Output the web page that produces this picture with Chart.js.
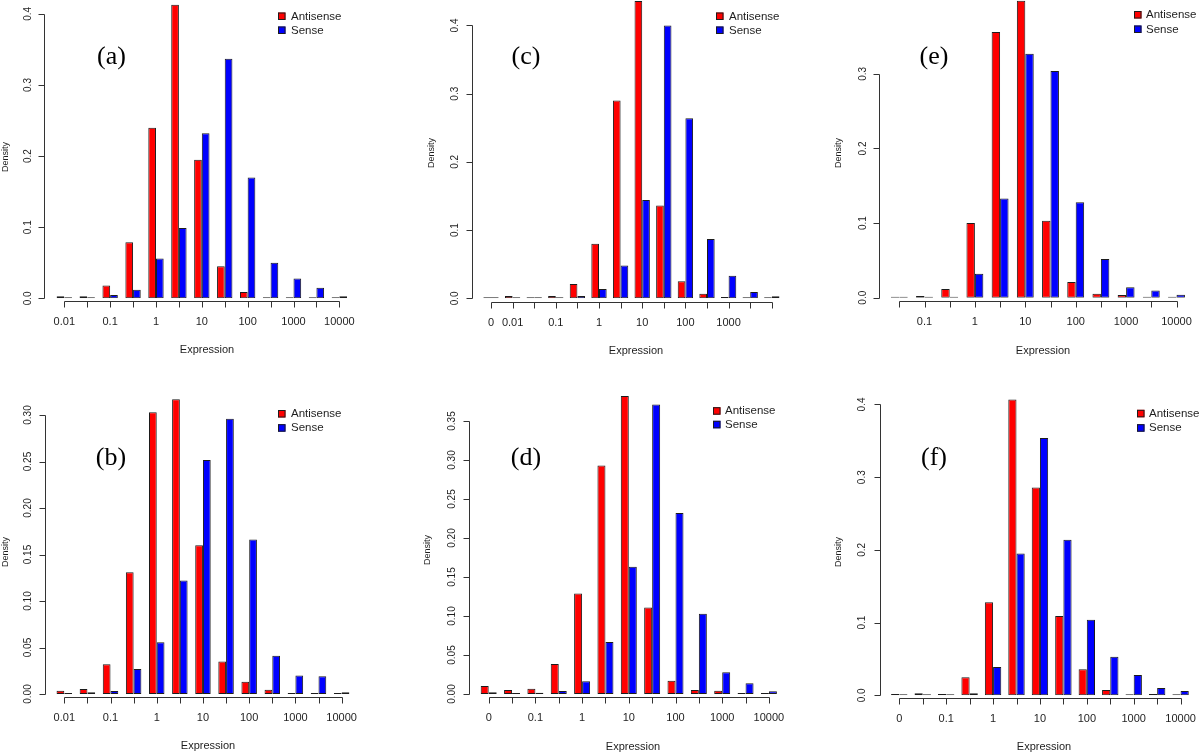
<!DOCTYPE html>
<html>
<head>
<meta charset="utf-8">
<script src="https://cdn.jsdelivr.net/npm/chart.js@4/dist/chart.umd.min.js"></script>
<style>
  body { margin: 0; background: #fff; width: 1200px; height: 755px; position: relative; overflow: hidden; }
  canvas { position: absolute; }
</style>
</head>
<body>
<canvas id="pa" width="400" height="370" style="left:0;top:0"></canvas>
<canvas id="pc" width="400" height="370" style="left:400px;top:0"></canvas>
<canvas id="pe" width="400" height="370" style="left:800px;top:0"></canvas>
<canvas id="pb" width="400" height="385" style="left:0;top:370px"></canvas>
<canvas id="pd" width="400" height="385" style="left:400px;top:370px"></canvas>
<canvas id="pf" width="400" height="385" style="left:800px;top:370px"></canvas>
<script>
// --- Data ---
const labelsA = ['0.01', '', '0.1', '', '1', '', '10', '', '100', '', '1000', '', '10000'];
const antisenseA = [0.003, 0.003, 0.018, 0.079, 0.240, 0.413, 0.195, 0.045, 0.009, 0.0014, 0.0004, 0.0004, 0.0005];
const senseA = [0.0014, 0.0005, 0.0047, 0.012, 0.056, 0.099, 0.232, 0.337, 0.170, 0.050, 0.028, 0.015, 0.0028];
const yTicksA = ['0.0', '0.1', '0.2', '0.3', '0.4'];

const labelsC = ['0', '0.01', '', '0.1', '', '1', '', '10', '', '100', '', '1000', '', ''];
const antisenseC = [0.0015, 0.0034, 0.0015, 0.0034, 0.021, 0.080, 0.290, 0.436, 0.136, 0.025, 0.0068, 0.002, 0.0004, 0.0004];
const senseC = [0.0004, 0.0004, 0.0005, 0.0005, 0.0034, 0.0137, 0.048, 0.144, 0.400, 0.264, 0.087, 0.033, 0.0093, 0.0029];
const yTicksC = ['0.0', '0.1', '0.2', '0.3', '0.4'];

const labelsE = ['', '0.1', '', '1', '', '10', '', '100', '', '1000', '', '10000'];
const antisenseE = [0.0013, 0.0022, 0.0116, 0.100, 0.356, 0.398, 0.103, 0.021, 0.0054, 0.0036, 0.0004, 0.0004];
const senseE = [0.0004, 0.0009, 0.0009, 0.032, 0.133, 0.327, 0.304, 0.128, 0.052, 0.014, 0.0098, 0.004];
const yTicksE = ['0.0', '0.1', '0.2', '0.3'];

const labelsB = ['0.01', '', '0.1', '', '1', '', '10', '', '100', '', '1000', '', '10000'];
const antisenseB = [0.0036, 0.0054, 0.032, 0.131, 0.303, 0.317, 0.160, 0.035, 0.0133, 0.0047, 0.0007, 0.0007, 0.0007];
const senseB = [0.0007, 0.0018, 0.0032, 0.027, 0.0556, 0.122, 0.2516, 0.296, 0.166, 0.041, 0.020, 0.019, 0.0018];
const yTicksB = ['0.00', '0.05', '0.10', '0.15', '0.20', '0.25', '0.30'];

const labelsD = ['0', '', '0.1', '', '1', '', '10', '', '100', '', '1000', '', '10000'];
const antisenseD = [0.0103, 0.0051, 0.0068, 0.0385, 0.129, 0.293, 0.382, 0.111, 0.017, 0.0051, 0.0043, 0.0009, 0.0009];
const senseD = [0.0021, 0.0004, 0.0017, 0.0038, 0.0162, 0.0667, 0.163, 0.371, 0.232, 0.103, 0.0278, 0.0137, 0.0034];
const yTicksD = ['0.00', '0.05', '0.10', '0.15', '0.20', '0.25', '0.30', '0.35'];

const labelsF = ['0', '', '0.1', '', '1', '', '10', '', '100', '', '1000', '', '10000'];
const antisenseF = [0.0018, 0.0028, 0.0018, 0.025, 0.128, 0.407, 0.286, 0.109, 0.036, 0.0073, 0.0004, 0.0018, 0.0004];
const senseF = [0.0004, 0.0005, 0.0005, 0.0028, 0.039, 0.195, 0.354, 0.214, 0.104, 0.053, 0.028, 0.010, 0.006];
const yTicksF = ['0.0', '0.1', '0.2', '0.3', '0.4'];

const seriesNames = ['Antisense', 'Sense'];

const RED = '#ff0000';
const BLUE = '#0000ff';
const EDGE = '#1c1c1c';
const AXIS = '#333333';
const INK = '#1e1e1e';
const SANS = '"Liberation Sans", Arial, sans-serif';
const SERIF = '"Liberation Serif", "Times New Roman", serif';

// --- Layout of each panel (canvas-local pixels) ---
const panels = [
    { id: 'pa', tag: '(a)', labels: labelsA, red: antisenseA, blue: senseA, yTicks: yTicksA,
      firstX: 64.3, step: 22.92, zeroY: 298.3, unit: 711, cat: 0.67,
      yAxisX: 44.3, yLabX: 28.3, xAxisY: 301, xLabY: 322, dens: [5.7, 157], expr: [207, 350],
      tagPos: [111.5, 57], leg: [278, 16, 30, 291] },
    { id: 'pc', tag: '(c)', labels: labelsC, red: antisenseC, blue: senseC, yTicks: yTicksC,
      firstX: 91, step: 21.6, zeroY: 298.3, unit: 682, cat: 0.71,
      yAxisX: 71.7, yLabX: 55, xAxisY: 301.7, xLabY: 323, dens: [32, 153], expr: [236, 351],
      tagPos: [126, 57], leg: [316, 16, 30, 329] },
    { id: 'pe', tag: '(e)', labels: labelsE, red: antisenseE, blue: senseE, yTicks: yTicksE,
      firstX: 99.3, step: 25.2, zeroY: 297.7, unit: 746, cat: 0.67,
      yAxisX: 79, yLabX: 63, xAxisY: 301, xLabY: 322, dens: [39, 153], expr: [243, 351],
      tagPos: [134, 57], leg: [334, 14.5, 29, 346] },
    { id: 'pb', tag: '(b)', labels: labelsB, red: antisenseB, blue: senseB, yTicks: yTicksB,
      firstX: 64.3, step: 23.11, zeroY: 324, unit: 930, cat: 0.67,
      yAxisX: 45, yLabX: 28, xAxisY: 326.7, xLabY: 347.7, dens: [5.7, 182], expr: [208, 375.7],
      tagPos: [111, 88], leg: [278, 43.5, 57.7, 291] },
    { id: 'pd', tag: '(d)', labels: labelsD, red: antisenseD, blue: senseD, yTicks: yTicksD,
      firstX: 88.7, step: 23.35, zeroY: 324, unit: 780, cat: 0.685,
      yAxisX: 69, yLabX: 52, xAxisY: 327.3, xLabY: 348, dens: [28, 180], expr: [233, 376.7],
      tagPos: [126, 88.3], leg: [313, 40.7, 54.3, 325] },
    { id: 'pf', tag: '(f)', labels: labelsF, red: antisenseF, blue: senseF, yTicks: yTicksF,
      firstX: 99.3, step: 23.44, zeroY: 325.3, unit: 727, cat: 0.7,
      yAxisX: 80, yLabX: 62, xAxisY: 328.3, xLabY: 349, dens: [39, 182], expr: [244, 377],
      tagPos: [134, 88], leg: [337, 43.3, 57.7, 349] }
];

function crisp(v) {
    return Math.round(v) + 0.5;
}

// R-style axes, labels and legend
const rStyle = {
    id: 'rStyle',
    afterDraw(chart, args, p) {
        const ctx = chart.ctx;
        const xs = chart.scales.x;
        const ys = chart.scales.y;
        const n = p.labels.length;
        ctx.save();
        ctx.strokeStyle = AXIS;
        ctx.fillStyle = INK;
        ctx.lineWidth = 1;

        // y axis
        const yVals = p.yTicks.map(parseFloat);
        const ax = crisp(p.yAxisX);
        ctx.beginPath();
        ctx.moveTo(ax, crisp(ys.getPixelForValue(yVals[0])));
        ctx.lineTo(ax, crisp(ys.getPixelForValue(yVals[yVals.length - 1])));
        yVals.forEach(v => {
            const y = crisp(ys.getPixelForValue(v));
            ctx.moveTo(ax, y);
            ctx.lineTo(ax - 6, y);
        });
        ctx.stroke();
        ctx.font = '10px ' + SANS;
        ctx.textAlign = 'center';
        ctx.textBaseline = 'middle';
        p.yTicks.forEach((t, i) => {
            ctx.save();
            ctx.translate(p.yLabX, ys.getPixelForValue(yVals[i]));
            ctx.rotate(-Math.PI / 2);
            ctx.fillText(t, 0, 0);
            ctx.restore();
        });

        // x axis
        const ay = crisp(p.xAxisY);
        ctx.beginPath();
        ctx.moveTo(crisp(xs.getPixelForValue(0)), ay);
        ctx.lineTo(crisp(xs.getPixelForValue(n - 1)), ay);
        for (let i = 0; i < n; i++) {
            const x = crisp(xs.getPixelForValue(i));
            ctx.moveTo(x, ay);
            ctx.lineTo(x, ay + 6);
        }
        ctx.stroke();
        ctx.font = '11px ' + SANS;
        p.labels.forEach((t, i) => {
            if (t) ctx.fillText(t, xs.getPixelForValue(i), p.xLabY);
        });

        // axis titles
        ctx.fillText('Expression', p.expr[0], p.expr[1]);
        ctx.save();
        ctx.font = '9px ' + SANS;
        ctx.translate(p.dens[0], p.dens[1]);
        ctx.rotate(-Math.PI / 2);
        ctx.fillText('Density', 0, 0);
        ctx.restore();

        // panel tag
        ctx.font = '26px ' + SERIF;
        ctx.fillStyle = '#000';
        ctx.fillText(p.tag, p.tagPos[0], p.tagPos[1]);

        // legend
        ctx.font = '11.5px ' + SANS;
        ctx.textAlign = 'left';
        chart.data.datasets.forEach((ds, i) => {
            const cy = i === 0 ? p.leg[1] : p.leg[2];
            ctx.fillStyle = ds.backgroundColor;
            ctx.fillRect(p.leg[0], cy - 3.5, 7.5, 7.5);
            ctx.strokeStyle = EDGE;
            ctx.strokeRect(p.leg[0] + 0.5, cy - 3.5 + 0.5, 6.5, 6.5);
            ctx.fillStyle = INK;
            ctx.fillText(ds.label, p.leg[3], cy + 0.5);
        });
        ctx.restore();
    }
};

function makePanel(p) {
    const canvas = document.getElementById(p.id);
    const n = p.labels.length;
    const left = p.firstX - p.step / 2;
    const right = left + n * p.step;
    const yMax = p.zeroY / p.unit;

    new Chart(canvas, {
        type: 'bar',
        data: {
            labels: p.labels,
            datasets: [
                { label: seriesNames[0], data: p.red, backgroundColor: RED },
                { label: seriesNames[1], data: p.blue, backgroundColor: BLUE }
            ]
        },
        options: {
            responsive: false,
            animation: false,
            events: [],
            layout: { padding: { left: left, right: canvas.width - right, top: 0, bottom: canvas.height - p.zeroY } },
            datasets: {
                bar: {
                    categoryPercentage: p.cat,
                    barPercentage: 1.0,
                    borderWidth: 1,
                    borderColor: EDGE,
                    borderSkipped: false,
                    minBarLength: 1
                }
            },
            plugins: {
                legend: { display: false },
                tooltip: { enabled: false },
                rStyle: p
            },
            scales: {
                x: { display: false, offset: true },
                y: { display: false, min: 0, max: yMax }
            }
        },
        plugins: [rStyle]
    });
}

panels.forEach(makePanel);
</script>
</body>
</html>
